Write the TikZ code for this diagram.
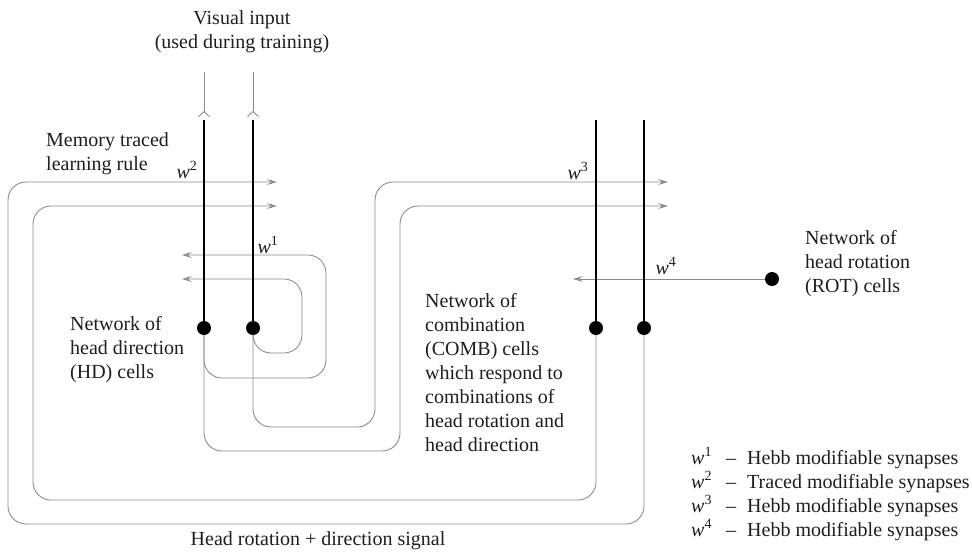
\documentclass[tikz,border=0pt]{standalone}
\usepackage{fontspec}
\setmainfont{Liberation Serif}
\usetikzlibrary{arrows.meta}

\definecolor{fibregray}{HTML}{8C8C8C}
\definecolor{inkgray}{HTML}{1E1E1E}
\newcommand{\wsyn}[1]{\textit{w}\textsuperscript{#1}}

\begin{document}
\begin{tikzpicture}[
    x=1pt, y=-1pt,
    txt/.style={font=\fontsize{20}{24}\selectfont, text=inkgray, inner sep=0pt, align=left},
    fibre/.style={draw=fibregray, line width=0.9pt, rounded corners=18pt,
        -{Stealth[length=10pt,width=6pt,inset=4pt]}},
    dendrite/.style={line width=2.6pt, draw=black},
    cell/.style={circle, fill=black, minimum size=14pt, inner sep=0pt},
    visual/.style={draw=fibregray, line width=0.9pt,
        -{Straight Barb[reversed,length=5pt,width=11pt]}, shorten >=3pt}
]
\useasboundingbox (0,0) rectangle (972,554);

% cell bodies
\node[cell] (hd1) at (204,328) {};
\node[cell] (hd2) at (253,328) {};
\node[cell] (cb1) at (596,328) {};
\node[cell] (cb2) at (644,328) {};
\node[cell] (rot) at (772,279) {};

% tops of the dendrites and the visual inputs
\coordinate (hd1top) at (204,120);
\coordinate (hd2top) at (253,120);
\coordinate (cb1top) at (596,120);
\coordinate (cb2top) at (644,120);
\coordinate (vis1) at (204,72);
\coordinate (vis2) at (253,72);

% COMB -> HD (w2)
\draw[fibre] (cb2) -- (644,524) -- (8,524) -- (8,182) -- (277,182);
\draw[fibre] (cb1) -- (596,500) -- (33,500) -- (33,206) -- (277,206);
% HD -> COMB (w3)
\draw[fibre] (hd2) -- (253,427) -- (375,427) -- (375,182) -- (668,182);
\draw[fibre] (hd1) -- (204,451) -- (400,451) -- (400,206) -- (668,206);
% HD -> HD (w1)
\draw[fibre] (hd1) -- (204,378) -- (326,378) -- (326,255) -- (182,255);
\draw[fibre] (hd2) -- (253,353) -- (302,353) -- (302,279) -- (182,279);
% ROT -> COMB (w4)
\draw[fibre] (rot) -- (573,279);

% dendrites
\draw[dendrite] (hd1top) -- (hd1);
\draw[dendrite] (hd2top) -- (hd2);
\draw[dendrite] (cb1top) -- (cb1);
\draw[dendrite] (cb2top) -- (cb2);

% visual input
\draw[visual] (vis1) -- (hd1top);
\draw[visual] (vis2) -- (hd2top);

% synapse labels
\node[txt] (w2) at (187,170) {\wsyn{2}};
\node[txt] (w1) at (268,245) {\wsyn{1}};
\node[txt] (w3) at (578,171) {\wsyn{3}};
\node[txt] (w4) at (666,266) {\wsyn{4}};

% text
\node[txt, align=center, anchor=north] (visual) at (242,10) {Visual input\\(used during training)};
\node[txt, anchor=north west] (memory) at (46,132) {Memory traced\\learning rule};
\node[txt, anchor=north west] (hdtext) at (70,316) {Network of\\head direction\\(HD) cells};
\node[txt, anchor=north west] (combtext) at (425,293) {Network of\\combination\\(COMB) cells\\which respond to\\combinations of\\head rotation and\\head direction};
\node[txt, anchor=north west] (rottext) at (805,230) {Network of\\head rotation\\(ROT) cells};
\node[txt] (signal) at (318,541) {Head rotation + direction signal};

% key
\foreach \n/\kind [count=\i] in {1/Hebb,2/Traced,3/Hebb,4/Hebb} {
    \node[txt, anchor=base west] (key\n) at (691,440+24*\i) {\wsyn{\n}};
    \node[txt, anchor=base west] at (726,440+24*\i) {\textendash};
    \node[txt, anchor=base west] at (747,440+24*\i) {\kind{} modifiable synapses};
}
\end{tikzpicture}
\end{document}
